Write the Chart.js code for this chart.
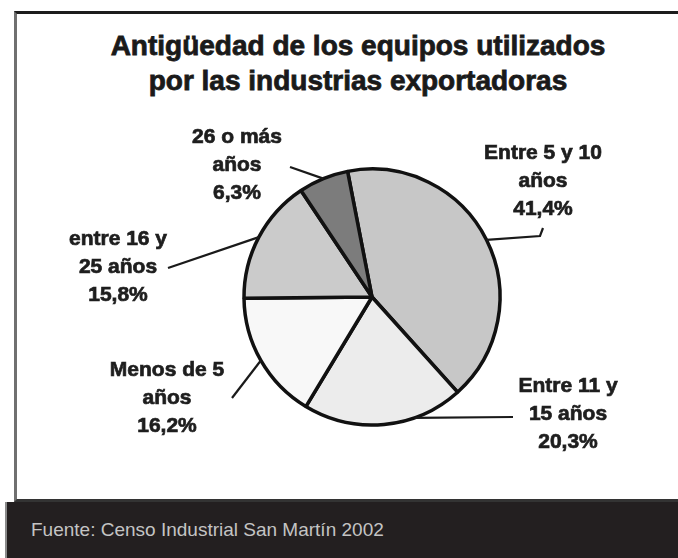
<!DOCTYPE html>
<html>
<head>
<meta charset="utf-8">
<script src="https://cdn.jsdelivr.net/npm/chart.js@4/dist/chart.umd.min.js"></script>
<style>
  html, body { margin: 0; padding: 0; background: #ffffff; }
  #wrap { position: relative; width: 678px; height: 558px; overflow: hidden; background: #fff; }
  #frame { position: absolute; left: 14px; top: 11px; width: 700px; height: 485px;
           border-top: 3px solid #1c1c1c; border-left: 3px solid #707070; border-bottom: 3px solid #333; }
  #title { position: absolute; left: 0; top: 28px; width: 716px; text-align: center;
           font: bold 28px "Liberation Sans", Arial, sans-serif; line-height: 35px; color: #1a1a1a;
           -webkit-text-stroke: 0.8px #1a1a1a; }
  #footer { position: absolute; left: 5px; top: 502px; width: 680px; height: 56px; background: #231f20;
            border-left: 2px solid #8a8a8a; box-sizing: border-box; }
  #footer span { position: absolute; left: 24px; top: 17px; font: 19px "Liberation Sans", Arial, sans-serif;
                 color: #c4c4c4; white-space: nowrap; }
  canvas { position: absolute; left: 0; top: 0; }
</style>
</head>
<body>
<div id="wrap">
  <div id="frame"></div>
  <div id="title">Antigüedad de los equipos utilizados<br>por las industrias exportadoras</div>
  <canvas id="c" width="678" height="558"></canvas>
  <div id="footer"><span>Fuente: Censo Industrial San Martín 2002</span></div>
</div>
<script>
// ---- Data ----
const categories = ["Entre 5 y 10 años", "Entre 11 y 15 años", "Menos de 5 años", "entre 16 y 25 años", "26 o más años"];
const values = [41.4, 20.3, 16.2, 15.8, 6.3];
const labelLines = [
  ["Entre 5 y 10", "años", "41,4%"],
  ["Entre 11 y", "15 años", "20,3%"],
  ["Menos de 5", "años", "16,2%"],
  ["entre 16 y", "25 años", "15,8%"],
  ["26 o más", "años", "6,3%"]
];
const sliceColors = ["#c7c7c7", "#ececec", "#f8f8f8", "#cbcbcb", "#7c7c7c"];

// ---- Label layout (style only) ----
const labelLayout = [
  { cx: 543, cy: 153, frac: 0.5, path: [[540, 236], [543, 228]] },
  { cx: 568, cy: 386, frac: 0.31, path: [[513, 417]] },
  { cx: 167, cy: 370, frac: 0.5, path: [[232, 398]] },
  { cx: 118, cy: 239, frac: 0.5, path: [[168, 268]] },
  { cx: 237, cy: 137, frac: 0.5, path: [[290, 167]] }
];
const lineGap = 28;

const calloutPlugin = {
  id: 'callouts',
  afterDatasetsDraw(chart) {
    const ctx = chart.ctx;
    const arcs = chart.getDatasetMeta(0).data;
    ctx.save();
    arcs.forEach((arc, i) => {
      const L = labelLayout[i];
      const p = arc.getProps(['x', 'y', 'startAngle', 'endAngle', 'outerRadius'], true);
      const a = p.startAngle + (p.endAngle - p.startAngle) * L.frac;
      const sx = p.x + Math.cos(a) * p.outerRadius;
      const sy = p.y + Math.sin(a) * p.outerRadius;
      ctx.beginPath();
      ctx.moveTo(sx, sy);
      L.path.forEach(pt => ctx.lineTo(pt[0], pt[1]));
      ctx.strokeStyle = '#1a1a1a';
      ctx.lineWidth = 2.2;
      ctx.stroke();
      ctx.fillStyle = '#1e1e1e';
      ctx.strokeStyle = '#1e1e1e';
      ctx.lineWidth = 0.7;
      ctx.font = 'bold 21px "Liberation Sans", Arial, sans-serif';
      ctx.textAlign = 'center';
      ctx.textBaseline = 'middle';
      labelLines[i].forEach((t, k) => {
        ctx.fillText(t, L.cx, L.cy + k * lineGap);
        ctx.strokeText(t, L.cx, L.cy + k * lineGap);
      });
    });
    ctx.restore();
  }
};

new Chart(document.getElementById('c'), {
  type: 'pie',
  data: {
    labels: categories,
    datasets: [{
      data: values,
      backgroundColor: sliceColors,
      borderColor: '#111111',
      borderWidth: 3.5,
      radius: 128
    }]
  },
  options: {
    responsive: false,
    animation: false,
    devicePixelRatio: 1,
    rotation: -11,
    layout: { padding: { left: 222, right: 156, top: 147, bottom: 111 } },
    plugins: {
      legend: { display: false },
      tooltip: { enabled: false },
      title: { display: false }
    }
  },
  plugins: [calloutPlugin]
});
</script>
</body>
</html>
